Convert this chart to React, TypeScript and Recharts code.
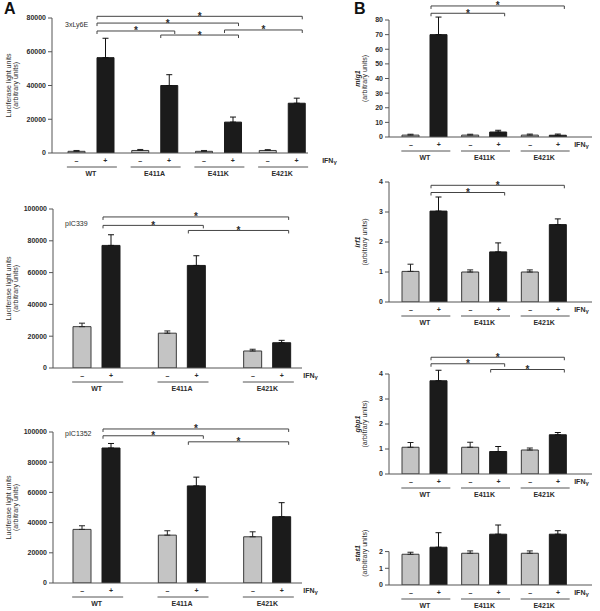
import React from "react";
import { BarChart, Bar, XAxis, YAxis, ErrorBar, ReferenceLine } from "recharts";

const FONT = "'Liberation Sans', Arial, sans-serif";
const INK = "#2b2b2b";
const AXIS = "#555";

// ---- panel A: luciferase reporters ----
const ly6eGroups = ["WT", "E411A", "E411K", "E421K"];
const ly6eMinus = [1000, 1500, 1000, 1500];
const ly6eMinusErr = [500, 600, 500, 500];
const ly6ePlus = [56500, 40000, 18300, 29500];
const ly6ePlusErr = [11500, 6400, 3000, 3000];
const ly6eTicks = [0, 20000, 40000, 60000, 80000];
const ly6eSig: [number, number, number][] = [
  [0, 3, 81000],
  [0, 2, 77000],
  [0, 1, 72300],
  [1, 2, 69900],
  [2, 3, 72900],
];

const picGroups = ["WT", "E411A", "E421K"];
const pic339Minus = [26000, 21900, 10700];
const pic339MinusErr = [2200, 1400, 1100];
const pic339Plus = [77100, 64500, 15900];
const pic339PlusErr = [6700, 6100, 1500];
const pic339Sig: [number, number, number][] = [
  [0, 2, 95000],
  [0, 1, 89700],
  [1, 2, 86500],
];

const pic1352Minus = [35500, 31700, 30600];
const pic1352MinusErr = [2400, 2900, 3300];
const pic1352Plus = [89400, 64300, 43900];
const pic1352PlusErr = [3000, 5800, 9300];
const pic1352Sig: [number, number, number][] = [
  [0, 2, 102000],
  [0, 1, 97500],
  [1, 2, 93500],
];
const picTicks = [0, 20000, 40000, 60000, 80000, 100000];

// ---- panel B: endogenous transcripts ----
const bGroups = ["WT", "E411K", "E421K"];

const mig1Minus = [1.3, 1.3, 1.3];
const mig1MinusErr = [0.6, 0.6, 0.7];
const mig1Plus = [70, 3.4, 1.2];
const mig1PlusErr = [12, 1.2, 0.8];
const mig1Ticks = [0, 10, 20, 30, 40, 50, 60, 70, 80];
const mig1Sig: [number, number, number][] = [
  [0, 2, 89.6],
  [0, 1, 84.6],
];

const irf1Minus = [1.02, 1.0, 1.0];
const irf1MinusErr = [0.24, 0.07, 0.07];
const irf1Plus = [3.03, 1.67, 2.58];
const irf1PlusErr = [0.47, 0.3, 0.19];
const irf1Sig: [number, number, number][] = [
  [0, 2, 3.89],
  [0, 1, 3.65],
];

const gbp1Minus = [1.07, 1.07, 0.96];
const gbp1MinusErr = [0.19, 0.2, 0.08];
const gbp1Plus = [3.73, 0.9, 1.57];
const gbp1PlusErr = [0.42, 0.2, 0.09];
const gbp1Sig: [number, number, number][] = [
  [0, 2, 4.67],
  [0, 1, 4.41],
  [1, 2, 4.18],
];
const fourTicks = [0, 1, 2, 3, 4];

const stat1Minus = [1.84, 1.9, 1.9];
const stat1MinusErr = [0.12, 0.14, 0.14];
const stat1Plus = [2.26, 3.04, 3.04];
const stat1PlusErr = [0.87, 0.55, 0.21];
const stat1Ticks = [0, 1, 2];

const txt = { fontSize: 7, fontWeight: 700, fill: INK, fontFamily: FONT };

function GroupTick(props: any) {
  const { x, y, payload, index, dx, half, last, ifnDx } = props;
  return (
    <g>
      <text x={x - dx} y={y + 10} textAnchor="middle" {...txt}>–</text>
      <text x={x + dx} y={y + 10} textAnchor="middle" {...txt}>+</text>
      <line x1={x - half - 1} x2={x + half + 3} y1={y + 14} y2={y + 14} stroke={AXIS} strokeWidth={1} />
      <text x={x} y={y + 23} textAnchor="middle" {...txt}>{payload.value}</text>
      {index === last && (
        <text x={x + ifnDx} y={y + 10} {...txt}>
          IFN<tspan fontSize={6} dy={1}>γ</tspan>
        </text>
      )}
    </g>
  );
}

function YTitle(props: any) {
  const { viewBox, lines, lx, italicFirst, title, titleX, titleY } = props;
  const cy = viewBox.y + viewBox.height / 2;
  return (
    <g>
      {lines.map((l: string, i: number) => (
        <text
          key={i}
          x={lx[i]}
          y={cy}
          transform={`rotate(-90, ${lx[i]}, ${cy})`}
          textAnchor="middle"
          dominantBaseline="central"
          fontSize={7}
          fontFamily={FONT}
          fontStyle={italicFirst && i === 0 ? "italic" : "normal"}
          fontWeight={italicFirst && i === 0 ? 700 : 400}
          fill={INK}
        >
          {l}
        </text>
      ))}
      {title && (
        <text x={titleX} y={titleY} {...txt} fontWeight={400}>
          {title}
        </text>
      )}
    </g>
  );
}

function Panel(p: any) {
  const n = p.groups.length;
  const data = p.groups.map((g: string, i: number) => ({
    group: g,
    minus: p.minus[i],
    plus: p.plus[i],
    minusErr: [0, p.minusErr[i]],
    plusErr: [0, p.plusErr[i]],
  }));
  const plotW = p.width - p.axisW - p.mRight;
  const plotH = p.height - p.mTop - p.xAxisH;
  const band = (plotW - p.padL - p.padR) / n;
  const inner = Math.floor((band - 2 * p.barSize - p.barGap) / 2);
  const plusLeft = inner + p.barSize + p.barGap;
  // hidden numeric axis spans [0, n-1] over the same pixel range as the bands
  const fix = (n - 1) / n;
  const at = (g: number, px: number) => (g + px / band) * fix;
  const tickLen = (3 * (p.domain[1] - p.domain[0])) / plotH;
  const half = p.barSize + p.barGap / 2;

  const brackets = p.sig.flatMap(([a, b, y]: [number, number, number], k: number) => {
    const x1 = at(a, plusLeft + 1);
    const x2 = at(b, plusLeft + p.barSize - 2);
    const common = { xAxisId: "pos", stroke: "#444", strokeWidth: 1, ifOverflow: "visible" as const };
    return [
      <ReferenceLine
        key={`h${k}`}
        {...common}
        segment={[{ x: x1, y }, { x: x2, y }]}
        label={{ value: "*", position: "top", offset: -3.5, fontSize: 10, fontWeight: 700, fill: INK, fontFamily: FONT }}
      />,
      <ReferenceLine key={`l${k}`} {...common} segment={[{ x: x1, y }, { x: x1, y: y - tickLen }]} />,
      <ReferenceLine key={`r${k}`} {...common} segment={[{ x: x2, y }, { x: x2, y: y - tickLen }]} />,
    ];
  });

  return (
    <div style={{ position: "absolute", left: p.left, top: p.top }}>
      <BarChart
        width={p.width}
        height={p.height}
        data={data}
        margin={{ top: p.mTop, right: p.mRight, bottom: 0, left: 0 }}
        barSize={p.barSize}
        barGap={p.barGap}
      >
        <XAxis
          dataKey="group"
          height={p.xAxisH}
          interval={0}
          tickLine={false}
          tickSize={0}
          tickMargin={0}
          padding={{ left: p.padL, right: p.padR }}
          axisLine={{ stroke: AXIS, strokeWidth: 1 }}
          tick={(t: any) => (
            <GroupTick {...t} dx={half / 2 + p.barGap / 4} half={half} last={n - 1} ifnDx={p.ifnDx} />
          )}
        />
        <XAxis
          xAxisId="pos"
          type="number"
          domain={[0, n - 1]}
          allowDataOverflow
          hide
          padding={{ left: p.padL, right: p.padR }}
        />
        <YAxis
          width={p.axisW}
          domain={p.domain}
          ticks={p.ticks}
          interval={0}
          allowDataOverflow
          tickSize={4}
          tickMargin={2}
          tickLine={{ stroke: AXIS }}
          axisLine={p.axisTop === undefined ? { stroke: AXIS, strokeWidth: 1 } : false}
          tick={{ ...txt }}
          label={
            <YTitle
              lines={p.yLines}
              lx={p.lx}
              italicFirst={p.italicFirst}
              title={p.title}
              titleX={p.titleX}
              titleY={p.titleY}
            />
          }
        />
        <Bar dataKey="minus" fill="#c4c4c4" stroke="#3a3a3a" strokeWidth={1} isAnimationActive={false}>
          <ErrorBar dataKey="minusErr" width={3} stroke="#222" strokeWidth={1} direction="y" />
        </Bar>
        <Bar dataKey="plus" fill="#1b1b1b" stroke="#1b1b1b" strokeWidth={1} isAnimationActive={false}>
          <ErrorBar dataKey="plusErr" width={3} stroke="#111" strokeWidth={1} direction="y" />
        </Bar>
        {p.axisTop !== undefined && (
          <ReferenceLine
            xAxisId="pos"
            stroke={AXIS}
            strokeWidth={1}
            ifOverflow="visible"
            segment={[
              { x: at(0, -p.padL), y: 0 },
              { x: at(0, -p.padL), y: p.axisTop },
            ]}
          />
        )}
        {brackets}
      </BarChart>
    </div>
  );
}

const lucLines = ["Luciferase light units", "(arbitrary units)"];
const aGeom = { left: 0, width: 350, axisW: 53, mRight: 48, padL: 1, padR: -8, barSize: 18, barGap: 11, ifnDx: 36, lx: [8, 15], titleX: 65 };
const bGeom = { left: 340, width: 260, axisW: 49, mRight: 8, padL: 6, padR: 18, barSize: 17, barGap: 11, ifnDx: 30, lx: [17, 24], italicFirst: true };

export default function App() {
  return (
    <div style={{ position: "absolute", left: 0, top: 0, width: 600, height: 611, background: "#fff", fontFamily: FONT }}>
      <div style={{ position: "absolute", left: 4, top: 0, fontSize: 16, fontWeight: 700, color: "#111" }}>A</div>
      <div style={{ position: "absolute", left: 354, top: 0, fontSize: 16, fontWeight: 700, color: "#111" }}>B</div>

      <Panel
        {...aGeom}
        top={0}
        height={185}
        axisW={52}
        mRight={42}
        padL={7}
        padR={-6}
        barSize={17}
        barGap={12}
        ifnDx={40}
        mTop={18}
        xAxisH={32}
        groups={ly6eGroups}
        minus={ly6eMinus}
        minusErr={ly6eMinusErr}
        plus={ly6ePlus}
        plusErr={ly6ePlusErr}
        domain={[0, 80000]}
        ticks={ly6eTicks}
        sig={ly6eSig}
        yLines={lucLines}
        title="3xLy6E"
        titleY={26.5}
      />
      <Panel
        {...aGeom}
        top={195}
        height={201}
        mTop={14}
        xAxisH={28}
        groups={picGroups}
        minus={pic339Minus}
        minusErr={pic339MinusErr}
        plus={pic339Plus}
        plusErr={pic339PlusErr}
        domain={[0, 100000]}
        ticks={picTicks}
        sig={pic339Sig}
        yLines={lucLines}
        title="pIC339"
        titleY={30.5}
      />
      <Panel
        {...aGeom}
        top={405}
        height={206}
        mTop={27}
        xAxisH={28}
        groups={picGroups}
        minus={pic1352Minus}
        minusErr={pic1352MinusErr}
        plus={pic1352Plus}
        plusErr={pic1352PlusErr}
        domain={[0, 100000]}
        ticks={picTicks}
        sig={pic1352Sig}
        yLines={lucLines}
        title="pIC1352"
        titleY={30.5}
      />

      <Panel
        {...bGeom}
        top={0}
        height={164}
        mTop={20}
        xAxisH={27}
        groups={bGroups}
        minus={mig1Minus}
        minusErr={mig1MinusErr}
        plus={mig1Plus}
        plusErr={mig1PlusErr}
        domain={[0, 80]}
        ticks={mig1Ticks}
        sig={mig1Sig}
        yLines={["mig1", "(arbitrary units)"]}
      />
      <Panel
        {...bGeom}
        top={160}
        height={169}
        mTop={22}
        xAxisH={27}
        groups={bGroups}
        minus={irf1Minus}
        minusErr={irf1MinusErr}
        plus={irf1Plus}
        plusErr={irf1PlusErr}
        domain={[0, 4]}
        ticks={fourTicks}
        sig={irf1Sig}
        yLines={["irf1", "(arbitrary units)"]}
      />
      <Panel
        {...bGeom}
        top={335}
        height={166}
        mTop={39}
        xAxisH={27}
        groups={bGroups}
        minus={gbp1Minus}
        minusErr={gbp1MinusErr}
        plus={gbp1Plus}
        plusErr={gbp1PlusErr}
        domain={[0, 4]}
        ticks={fourTicks}
        sig={gbp1Sig}
        yLines={["gbp1", "(arbitrary units)"]}
      />
      <Panel
        {...bGeom}
        top={495}
        height={117}
        mTop={26.5}
        xAxisH={27}
        groups={bGroups}
        minus={stat1Minus}
        minusErr={stat1MinusErr}
        plus={stat1Plus}
        plusErr={stat1PlusErr}
        domain={[0, 3.8]}
        ticks={stat1Ticks}
        axisTop={2}
        sig={[]}
        yLines={["stat1", "(arbitrary units)"]}
      />
    </div>
  );
}
